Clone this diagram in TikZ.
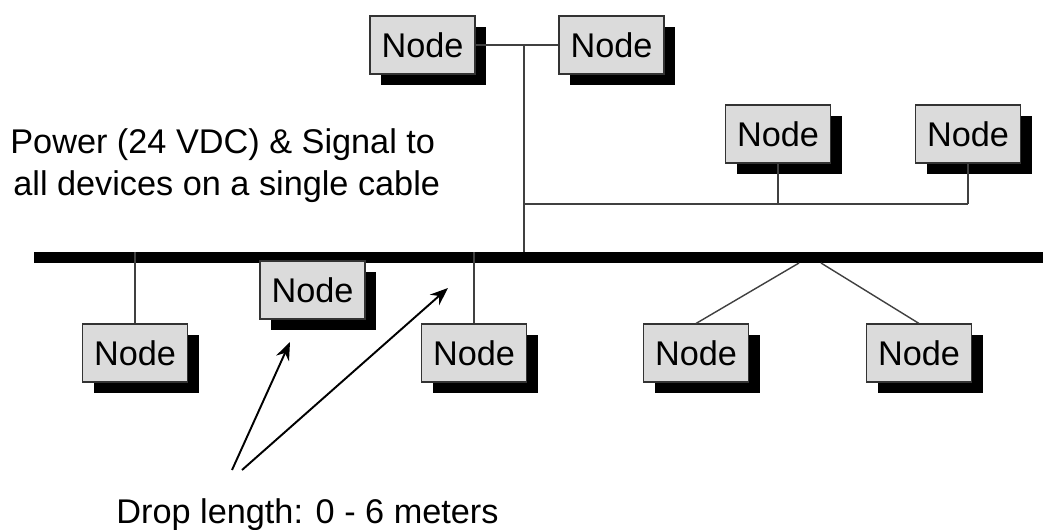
\documentclass[tikz,border=0pt]{standalone}
\usepackage{fontspec}
\setmainfont{Liberation Sans}
\usetikzlibrary{shadows,arrows.meta}
\tikzset{
	devbox/.style={draw=black!80, fill=black!14, line width=0.6pt, minimum width=2.1cm, minimum height=1.16cm, inner sep=0pt,
		font=\fontsize{19.5}{22}\selectfont,
		drop shadow={shadow xshift=0.22cm, shadow yshift=-0.22cm, fill=black, opacity=1}},
	drop/.style={draw=black!75, line width=0.8pt},
	pointer/.style={line width=1.1pt, -{Stealth[length=3.6mm, width=2.8mm, inset=1.2mm]}},
	caption/.style={inner sep=0pt, font=\fontsize{19.5}{22}\selectfont}
}

\begin{document}
\begin{tikzpicture}
		%%%%% START %%%%%
		\useasboundingbox (0, 0) rectangle (21.02, 10.58);
		
		% trunk cable
		\coordinate (busW) at (0.68, 5.43);
		\coordinate (busE) at (20.86, 5.43);
		\draw[line width=0.22cm] (busW) -- (busE);
		
		% devices
		\node[devbox] (top1) at (8.45, 9.68) {Node};
		\node[devbox] (top2) at (12.23, 9.68) {Node};
		\node[devbox] (mid1) at (15.56, 7.9) {Node};
		\node[devbox] (mid2) at (19.36, 7.9) {Node};
		\node[devbox] (bot1) at (2.7, 3.52) {Node};
		\node[devbox] (hang) at (6.25, 4.78) {Node};
		\node[devbox] (bot3) at (9.48, 3.52) {Node};
		\node[devbox] (bot4) at (13.92, 3.52) {Node};
		\node[devbox] (bot5) at (18.38, 3.52) {Node};
		
		% branch above the trunk
		\coordinate (tee) at (10.48, 9.68);
		\coordinate (teeBus) at (10.48, 5.54);
		\coordinate (branchL) at (10.48, 6.5);
		\coordinate (branchR) at (19.36, 6.5);
		\draw[drop] (top1.east) -- (top2.west);
		\draw[drop] (tee) -- (teeBus);
		\draw[drop] (branchL) -- (branchR);
		\draw[drop] (mid1.south) -- (mid1.south |- branchL);
		\draw[drop] (mid2.south) -- (branchR);
		
		% drops below the trunk
		\draw[drop] (bot1.north) -- (bot1.north |- teeBus);
		\draw[drop] (bot3.north) -- (bot3.north |- teeBus);
		\coordinate (forkL) at (15.98, 5.32);
		\coordinate (forkR) at (16.42, 5.32);
		\draw[drop] (forkL) -- (bot4.north);
		\draw[drop] (forkR) -- (bot5.north);
		
		% labels
		\node[caption, anchor=base west] (power) at (0.2, 7.52) {Power (24 VDC) \& Signal to};
		\node[caption, anchor=base west] (cable) at (0.26, 6.68) {all devices on a single cable};
		\node[caption, anchor=base] (droplen) at (6.15, 0.12) {Drop length: 0 - 6 meters};
		
		\coordinate (arrA) at (4.64, 1.18);
		\coordinate (arrB) at (4.84, 1.18);
		\coordinate (tipA) at (5.8, 3.74);
		\coordinate (tipB) at (8.96, 4.82);
		\draw[pointer] (arrA) -- (tipA);
		\draw[pointer] (arrB) -- (tipB);
		%%%%% END %%%%%
	\end{tikzpicture}
\end{document}
